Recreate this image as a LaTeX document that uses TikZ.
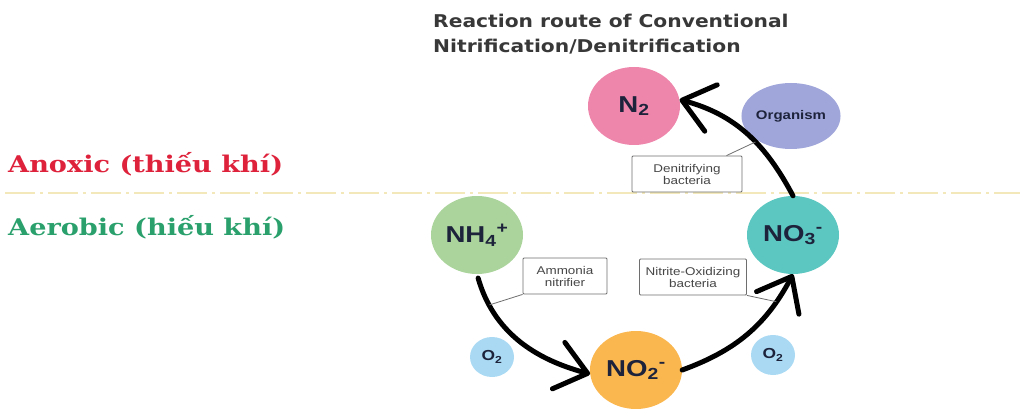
\documentclass[tikz,border=0pt]{standalone}
\usepackage{fontspec}
\setmainfont{Liberation Sans}
\newfontfamily\titlefont[FakeStretch=1.15]{DejaVu Sans}
\newfontfamily\zonefont[FakeStretch=1.18]{DejaVu Serif}
\newfontfamily\chemfont[FakeStretch=1.2]{Liberation Sans}
\usepackage{xcolor}
\definecolor{NitroPink}{RGB}{238,134,172}
\definecolor{OrgLavender}{RGB}{160,166,218}
\definecolor{AmmGreen}{RGB}{170,212,155}
\definecolor{NitrateTeal}{RGB}{92,198,192}
\definecolor{NitriteOrange}{RGB}{250,183,80}
\definecolor{OxyBlue}{RGB}{170,218,243}
\definecolor{ChemInk}{RGB}{30,35,60}
\definecolor{TagEdge}{RGB}{110,110,110}
\definecolor{TagInk}{RGB}{70,70,70}
\definecolor{AnoxRed}{RGB}{222,34,60}
\definecolor{AeroGreen}{RGB}{42,160,108}
\definecolor{ZoneLine}{RGB}{242,232,185}
\usetikzlibrary{
    arrows.meta,
    shapes.geometric
}
\tikzset{
    chem/.style={
        ellipse,
        minimum width=92pt,
        minimum height=78pt,
        inner sep=0pt,
        text=ChemInk,
        font=\chemfont\bfseries\fontsize{23}{25}\selectfont
    },
    oxy/.style={
        ellipse,
        fill=OxyBlue,
        minimum width=44pt,
        minimum height=40pt,
        inner sep=0pt,
        text=ChemInk,
        font=\chemfont\bfseries\fontsize{14.5}{15}\selectfont
    },
    tagbox/.style={
        draw=TagEdge,
        line width=0.8pt,
        fill=white,
        rounded corners=1pt,
        align=center,
        inner sep=2pt,
        minimum height=36pt,
        text=TagInk,
        font=\chemfont\fontsize{11.2}{12}\selectfont
    },
    tagline/.style={
        draw=TagEdge,
        line width=0.8pt
    },
    bigarrow/.style={
        line width=5pt,
        line cap=round,
        -{Straight Barb[length=30pt,width=48pt,round]}
    },
    zonelabel/.style={
        anchor=base west,
        inner sep=0pt,
        font=\zonefont\bfseries\fontsize{23}{26}\selectfont
    }
}

\begin{document}
\begin{tikzpicture}[x=1pt,y=1pt]
%
    \useasboundingbox (0,0) rectangle (1023,-409);
%
    % Title
%
    \node[
        anchor=north west,
        align=left,
        inner sep=0pt,
        text=black!78,
        font=\titlefont\bfseries\fontsize{17.6}{25}\selectfont
    ]
    (title) at (433,-13.5) {
        Reaction route of Conventional\\
        Nitrification/Denitrification
    };
%
    % Zone border
%
    \draw[
        ZoneLine,
        line width=1.1pt,
        dash pattern=on 30pt off 5pt on 3pt off 5pt
    ]
    (5,-193)
    --
    (1020,-193);
%
    \node[zonelabel, text=AnoxRed] (anoxic) at (8,-172) {Anoxic (thiếu khí)};
    \node[zonelabel, text=AeroGreen] (aerobic) at (8,-235) {Aerobic (hiếu khí)};
%
    % Compounds
%
    \node[chem, fill=NitroPink] (n2) at (634,-106) {N\textsubscript{2}};
    \node[chem, fill=AmmGreen] (nh4) at (477,-235) {NH\textsubscript{4}\textsuperscript{+}};
    \node[chem, fill=NitrateTeal] (no3) at (793,-235) {NO\textsubscript{3}\textsuperscript{-}};
    \node[chem, fill=NitriteOrange] (no2) at (636,-370) {NO\textsubscript{2}\textsuperscript{-}};
%
    \node[
        ellipse,
        fill=OrgLavender,
        minimum width=72pt,
        minimum height=66pt,
        inner sep=0pt,
        text=ChemInk,
        font=\chemfont\bfseries\fontsize{12.5}{13}\selectfont
    ]
    (organism) at (791,-116) {Organism};
%
    \node[oxy] (o2-left) at (492,-357) {O\textsubscript{2}};
    \node[oxy] (o2-right) at (773,-355) {O\textsubscript{2}};
%
    % Reaction route
%
    \draw[bigarrow, shorten <=4pt]
    (nh4.south)
    to[out=-74, in=165] coordinate[pos=0.2] (step-a)
    (no2.185);
%
    \draw[bigarrow]
    (no2.east)
    to[out=20, in=-118] coordinate[pos=0.8] (step-b)
    (no3.south);
%
    \draw[bigarrow]
    (no3.north)
    to[out=118, in=-15] coordinate[pos=0.42] (step-c)
    (n2.8);
%
    % Bacteria tags
%
    \node[tagbox, minimum width=84pt] (ammonia) at (565,-276) {Ammonia\\nitrifier};
    \node[tagbox, minimum width=107pt] (nitrite) at (693,-277) {Nitrite-Oxidizing\\bacteria};
    \node[tagbox, minimum width=110pt] (denitri) at (687,-174) {Denitrifying\\bacteria};
%
    \draw[tagline] (ammonia.south west) -- (step-a);
    \draw[tagline] (nitrite.south east) -- (step-b);
    \draw[tagline] (denitri.25) -- (step-c);
%
\end{tikzpicture}
\end{document}
